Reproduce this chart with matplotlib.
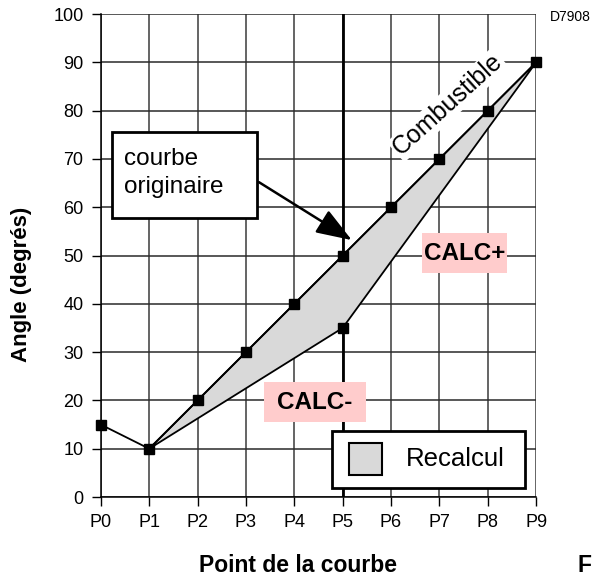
import matplotlib
matplotlib.use("Agg")
import matplotlib.pyplot as plt
from matplotlib.patches import Rectangle, Polygon

plt.rcParams['font.family'] = ['Liberation Sans', 'DejaVu Sans']

# Curve points and angle values
points = ["P0", "P1", "P2", "P3", "P4", "P5", "P6", "P7", "P8", "P9"]
original = [15, 10, 20, 30, 40, 50, 60, 70, 80, 90]
# Recalculated lower boundary (P1, P5, P9)
recalc_idx = [1, 5, 9]
recalc_val = [10, 35, 90]
y_ticks = [0, 10, 20, 30, 40, 50, 60, 70, 80, 90, 100]

fig = plt.figure(figsize=(5.93, 5.79), dpi=100)
ax = fig.add_axes([0.170, 0.1416, 0.734, 0.834])
x = list(range(len(points)))

ax.set_xlim(0, 9)
ax.set_ylim(0, 100)
ax.set_xticks(x)
ax.set_xticklabels(points)
ax.set_yticks(y_ticks)
ax.tick_params(axis='both', direction='out', length=6.5, width=1, labelsize=13, pad=6)
ax.tick_params(axis='x', pad=6)

# grid
for xi in x:
    ax.axvline(xi, color='#3a3a3a', lw=1.1, zorder=1)
for yi in y_ticks:
    ax.axhline(yi, color='#2a2a2a', lw=1.1, zorder=1)
ax.axvline(5, color='black', lw=2, zorder=2)
for s in ['top', 'right']:
    ax.spines[s].set_visible(False)
for s in ['left', 'bottom']:
    ax.spines[s].set_linewidth(1.1)

# shaded recalculation zone
upper = [(i, original[i]) for i in range(1, 10)]
lower = [(recalc_idx[k], recalc_val[k]) for k in range(len(recalc_idx))]
poly = Polygon(upper + lower[::-1], closed=True, facecolor='#d9d9d9',
               edgecolor='black', lw=1.3, zorder=3)
ax.add_patch(poly)

ax.plot(x, original, color='black', lw=1.3, marker='s', ms=6.5, zorder=5, clip_on=False)
ax.plot([5], [35], color='black', marker='s', ms=6.5, zorder=5)

# "courbe originaire" callout
ax.add_patch(Rectangle((0.23, 57.8), 3.0, 17.8, facecolor='white', edgecolor='black',
                       lw=2, zorder=6))
ax.text(0.476, 68.7, "courbe", fontsize=17.5, va='baseline', ha='left', zorder=7)
ax.text(0.476, 62.9, "originaire", fontsize=17.5, va='baseline', ha='left', zorder=7)
ax.annotate("", xy=(5.19, 53.2), xytext=(3.27, 65.2),
            arrowprops=dict(arrowstyle='-|>,head_length=2.2,head_width=0.8',
                            color='black', lw=1.8, shrinkA=0, shrinkB=0), zorder=7)

# zone labels
ax.text(7.18, 81.2, "Combustible", fontsize=18, rotation=42, ha='center', va='center',
        zorder=7, bbox=dict(facecolor='white', edgecolor='none', pad=1))
ax.add_patch(Rectangle((6.64, 46.4), 1.76, 8.3, facecolor='#ffcccc', edgecolor='none', zorder=6))
ax.text(7.52, 50.5, "CALC+", fontsize=17.5, fontweight='bold', ha='center', va='center', zorder=7)
ax.add_patch(Rectangle((3.37, 15.5), 2.11, 8.3, facecolor='#ffcccc', edgecolor='none', zorder=6))
ax.text(4.43, 19.6, "CALC-", fontsize=17.5, fontweight='bold', ha='center', va='center', zorder=7)

# legend box
ax.add_patch(Rectangle((4.78, 1.9), 3.99, 11.8, facecolor='white', edgecolor='black',
                       lw=2, zorder=6))
ax.add_patch(Rectangle((5.13, 4.55), 0.68, 6.65, facecolor='#d9d9d9', edgecolor='black',
                       lw=1.5, zorder=7))
ax.text(6.31, 7.9, "Recalcul", fontsize=18.5, ha='left', va='center', zorder=7)

fig.text(0.037, 0.509, "Angle (degrés)", fontsize=16, fontweight='bold', rotation=90,
         ha='center', va='center')
fig.text(0.503, 0.024, "Point de la courbe", fontsize=16.5, fontweight='bold',
         ha='center', va='center')
fig.text(0.985, 0.024, "F", fontsize=16.5, fontweight='bold', ha='center', va='center')
fig.text(0.927, 0.971, "D7908", fontsize=10, ha='left', va='center')

fig.savefig("out.png", dpi=100)
